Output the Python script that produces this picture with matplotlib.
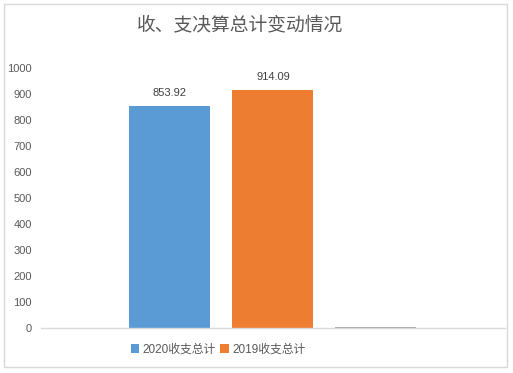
import matplotlib.pyplot as plt
import numpy as np

plt.rcParams['font.family'] = ['Liberation Sans', 'Noto Sans CJK SC', 'DejaVu Sans']

# data
series_names = ['2020收支总计', '2019收支总计', '']
values = [853.92, 914.09, 3]
colors = ['#5B9BD5', '#ED7D31', '#A5A5A5']
yticks = list(range(0, 1001, 100))

fig = plt.figure(figsize=(5.13, 3.73), dpi=100)
ax = fig.add_axes([0.080, 0.1206, 0.904, 0.6971])

x = np.array([-1, 0, 1])
for i in range(3):
    ax.bar(x[i], values[i], width=0.786, color=colors[i],
           label=series_names[i] if series_names[i] else '_nolegend_')

for i in range(2):
    ax.text(x[i], values[i] + 32, f'{values[i]:.2f}', ha='center', va='bottom',
            fontsize=8, color='#404040')

ax.set_xlim(-2.25, 2.25)
ax.set_ylim(0, 1000)
ax.set_yticks(yticks)
ax.set_yticklabels([str(t) for t in yticks], fontsize=8, color='#595959')
ax.set_xticks([])
ax.tick_params(axis='y', length=0, pad=6.5)
for s in ['top', 'right', 'left']:
    ax.spines[s].set_visible(False)
ax.spines['bottom'].set_color('#D9D9D9')
ax.spines['bottom'].set_linewidth(1)

fig.text(0.468, 0.933, '收、支决算总计变动情况', ha='center', va='center',
         fontsize=13.5, color='#595959', family=['Noto Sans CJK SC'])

fig.legend(loc='center', bbox_to_anchor=(0.425, 0.062), ncol=2, frameon=False,
           fontsize=8.5, handlelength=0.75, handleheight=0.75, handletextpad=0.25,
           columnspacing=0.4, labelcolor='#595959')

# outer chart border
fig.patches.append(plt.Rectangle((0.007, 0.016), 0.981, 0.972, transform=fig.transFigure,
                                 fill=False, edgecolor='#D9D9D9', linewidth=1))

fig.savefig('out.png', dpi=100)
